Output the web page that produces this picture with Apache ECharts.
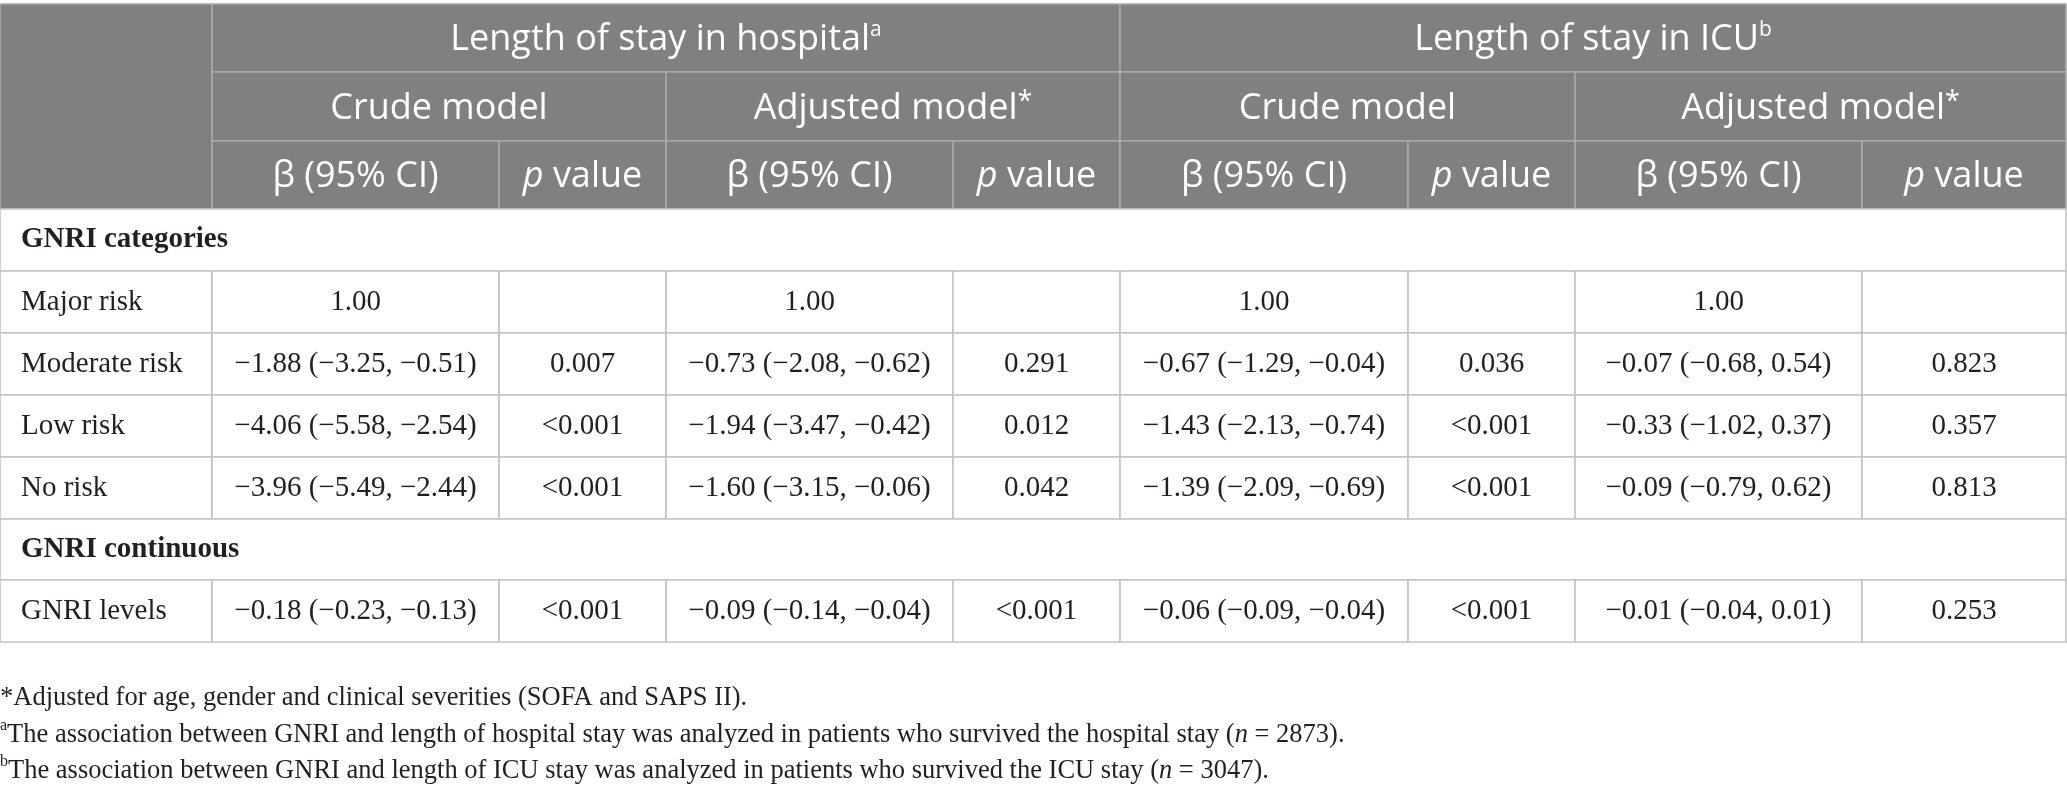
<!DOCTYPE html>
<html>
<head>
<meta charset="utf-8">
<script src="https://cdn.jsdelivr.net/npm/echarts@6/dist/echarts.min.js"></script>
<style>
html,body{margin:0;padding:0;background:#ffffff;}
#chart{width:2067px;height:794px;}
</style>
</head>
<body>
<div id="chart"></div>
<script>
// ---------- DATA ----------
const groupHeaders = ['Length of stay in hospital{sa|a}', 'Length of stay in ICU{sa|b}'];
const modelHeaders = ['Crude model', 'Adjusted model{ss|*}', 'Crude model', 'Adjusted model{ss|*}'];
const statHeaders = ['β (95% CI)', '{hi|p} value'];
const sectionTitles = ['GNRI categories', 'GNRI continuous'];
const categoryRows = ['Major risk', 'Moderate risk', 'Low risk', 'No risk'];
const continuousRows = ['GNRI levels'];
// index 0-3: categories, index 4: continuous
const hospCrudeBeta = ['1.00', '−1.88 (−3.25, −0.51)', '−4.06 (−5.58, −2.54)', '−3.96 (−5.49, −2.44)', '−0.18 (−0.23, −0.13)'];
const hospCrudeP    = ['', '0.007', '<0.001', '<0.001', '<0.001'];
const hospAdjBeta   = ['1.00', '−0.73 (−2.08, −0.62)', '−1.94 (−3.47, −0.42)', '−1.60 (−3.15, −0.06)', '−0.09 (−0.14, −0.04)'];
const hospAdjP      = ['', '0.291', '0.012', '0.042', '<0.001'];
const icuCrudeBeta  = ['1.00', '−0.67 (−1.29, −0.04)', '−1.43 (−2.13, −0.74)', '−1.39 (−2.09, −0.69)', '−0.06 (−0.09, −0.04)'];
const icuCrudeP     = ['', '0.036', '<0.001', '<0.001', '<0.001'];
const icuAdjBeta    = ['1.00', '−0.07 (−0.68, 0.54)', '−0.33 (−1.02, 0.37)', '−0.09 (−0.79, 0.62)', '−0.01 (−0.04, 0.01)'];
const icuAdjP       = ['', '0.823', '0.357', '0.813', '0.253'];
const footnotes = [
  '*Adjusted for age, gender and clinical severities (SOFA and SAPS II).',
  '{fs|a}The association between GNRI and length of hospital stay was analyzed in patients who survived the hospital stay ({fi|n} = 2873).',
  '{fs|b}The association between GNRI and length of ICU stay was analyzed in patients who survived the ICU stay ({fi|n} = 3047).'
];

// ---------- LAYOUT ----------
const COL_EDGES = [0, 212, 499, 666, 953, 1120, 1408, 1575, 1862, 2066];
const ROW_EDGES = [4, 72, 141, 209, 271, 333, 395, 457, 519, 580, 642];
const FOOT_Y = [698, 735, 771];
const W = 2067, H = 794;
const HEAD_BG = '#7f807f', HEAD_LINE = '#a9aaa9', BODY_LINE = '#c3c3c3', INK = '#231f20';
const SANS = '"Open Sans", "Noto Sans", sans-serif';
const SERIF = '"Liberation Serif", "DejaVu Serif", serif';

// ---------- BUILD CELLS ----------
const cells = [];
function cell(c0, c1, r0, r1, text, kind) { cells.push({c0, c1, r0, r1, text, kind}); }
cell(0, 1, 0, 3, '', 'head');
groupHeaders.forEach((t, g) => cell(1 + 4 * g, 5 + 4 * g, 0, 1, t, 'head'));
modelHeaders.forEach((t, m) => cell(1 + 2 * m, 3 + 2 * m, 1, 2, t, 'head'));
for (let m = 0; m < 4; m++) {
  cell(1 + 2 * m, 2 + 2 * m, 2, 3, statHeaders[0], 'head');
  cell(2 + 2 * m, 3 + 2 * m, 2, 3, statHeaders[1], 'head');
}
const valueCols = [hospCrudeBeta, hospCrudeP, hospAdjBeta, hospAdjP, icuCrudeBeta, icuCrudeP, icuAdjBeta, icuAdjP];
function dataRow(r, label, idx) {
  cell(0, 1, r, r + 1, label, 'label');
  valueCols.forEach((arr, k) => cell(1 + k, 2 + k, r, r + 1, arr[idx], 'body'));
}
cell(0, 9, 3, 4, sectionTitles[0], 'section');
categoryRows.forEach((lab, i) => dataRow(4 + i, lab, i));
cell(0, 9, 8, 9, sectionTitles[1], 'section');
continuousRows.forEach((lab, i) => dataRow(9 + i, lab, 4 + i));

const headRich = {
  sa: {fontFamily: SANS, fontSize: 21, fill: '#ffffff', verticalAlign: 'top', lineHeight: 40},
  ss: {fontFamily: SANS, fontSize: 27, fill: '#ffffff', verticalAlign: 'top', lineHeight: 40},
  hi: {fontFamily: SANS, fontSize: 36, fill: '#ffffff', fontStyle: 'italic', lineHeight: 40}
};

function renderItem(params, api) {
  const c = cells[params.dataIndex];
  const p0 = api.coord([COL_EDGES[c.c0], ROW_EDGES[c.r0]]);
  const p1 = api.coord([COL_EDGES[c.c1], ROW_EDGES[c.r1]]);
  const x = p0[0], y = p0[1], w = p1[0] - p0[0], h = p1[1] - p0[1];
  const isHead = c.kind === 'head';
  const children = [{
    type: 'rect',
    shape: {x, y, width: w, height: h},
    style: {fill: isHead ? HEAD_BG : '#ffffff', stroke: isHead ? HEAD_LINE : BODY_LINE, lineWidth: 1.6}
  }];
  if (c.text) {
    const left = c.kind === 'label' || c.kind === 'section';
    const style = {
      text: c.text,
      x: left ? x + 21 : x + w / 2,
      y: y + h / 2 + (isHead ? 2 : 0),
      align: left ? 'left' : 'center',
      verticalAlign: 'middle',
      fill: isHead ? '#ffffff' : INK,
      fontFamily: isHead ? SANS : SERIF,
      fontSize: isHead ? 36 : 29,
      fontWeight: c.kind === 'section' ? 'bold' : 'normal'
    };
    if (isHead) { style.rich = headRich; style.lineHeight = 40; }
    children.push({type: 'text', style});
  }
  return {type: 'group', children};
}

const chart = echarts.init(document.getElementById('chart'), null, {renderer: 'canvas'});
chart.setOption({
  animation: false,
  backgroundColor: '#ffffff',
  grid: {left: 0, right: 0, top: 0, bottom: 0},
  xAxis: {type: 'value', min: 0, max: W, show: false},
  yAxis: {type: 'value', min: 0, max: H, inverse: true, show: false},
  series: [{
    type: 'custom',
    renderItem,
    coordinateSystem: 'cartesian2d',
    data: cells.map((c, i) => [COL_EDGES[c.c0], ROW_EDGES[c.r0], i]),
    silent: true
  }],
  graphic: footnotes.map((t, i) => ({
    type: 'text',
    left: 0,
    top: FOOT_Y[i] - 17,
    silent: true,
    style: {
      text: t,
      fill: INK,
      fontFamily: SERIF,
      fontSize: 26.5,
      lineHeight: 34,
      rich: {
        fs: {fontFamily: SERIF, fontSize: 16, fill: INK, verticalAlign: 'top', lineHeight: 34},
        fi: {fontFamily: SERIF, fontSize: 26.5, fill: INK, fontStyle: 'italic', lineHeight: 34}
      }
    }
  }))
});
</script>
</body>
</html>
